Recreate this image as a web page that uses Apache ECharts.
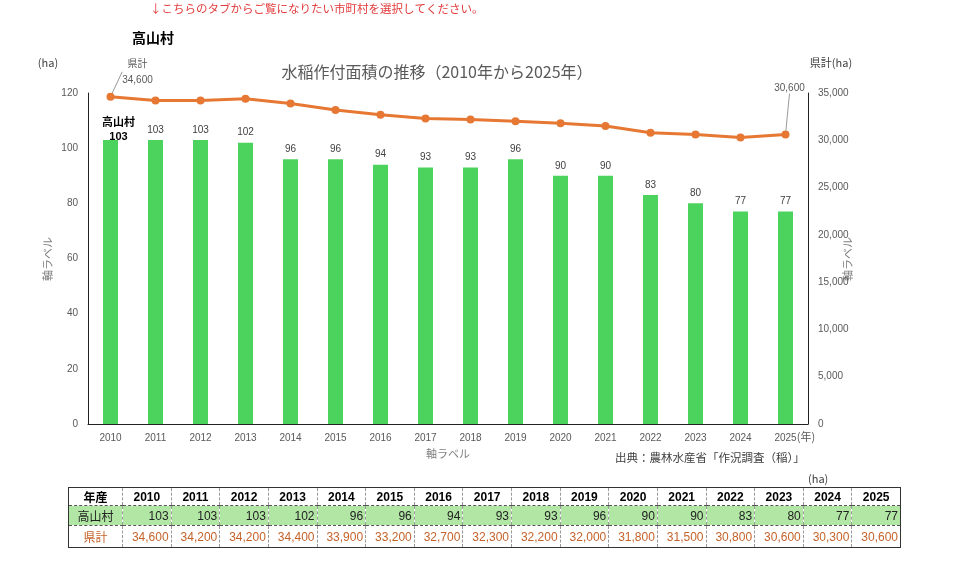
<!DOCTYPE html>
<html><head><meta charset="utf-8">
<script src="https://cdn.jsdelivr.net/npm/echarts@6/dist/echarts.min.js"></script>
<style>
html,body{margin:0;padding:0;background:#fff;}
#chart{position:absolute;left:0;top:0;width:960px;height:568px;}
#tbl{position:absolute;left:68px;top:487px;width:833px;border-collapse:collapse;table-layout:fixed;
 font-family:"Liberation Sans","Noto Sans CJK JP",sans-serif;font-size:12px;border:1px solid #333;}
#tbl td{padding:0 2px;border-left:1px dashed #999;white-space:nowrap;overflow:hidden;}
#tbl tr.h td{height:17px;font-weight:bold;text-align:center;color:#000;border-bottom:1px dashed #555;}
#tbl tr.v td{height:19px;background:#b2e6a4;text-align:right;color:#222;border-bottom:1px dashed #555;}
#tbl tr.p td{height:21px;text-align:right;color:#c4622a;}
#tbl td.first{text-align:center !important;font-family:"Noto Sans CJK JP",sans-serif;}
#unit{position:absolute;left:808px;top:470px;font-size:11px;color:#404040;font-family:"Noto Sans CJK JP",sans-serif;}
</style>
</head><body>
<div id="chart"></div>
<div id="unit">(ha)</div>
<table id="tbl"></table>
<script>
const years = ['2010','2011','2012','2013','2014','2015','2016','2017','2018','2019','2020','2021','2022','2023','2024','2025'];
const villageArea = [103,103,103,102,96,96,94,93,93,96,90,90,83,80,77,77];
const prefTotal = [34600,34200,34200,34400,33900,33200,32700,32300,32200,32000,31800,31500,30800,30600,30300,30600];
const villageName = '高山村';
const prefName = '県計';

const FONT = '"Liberation Sans","Noto Sans CJK JP",sans-serif';
const JFONT = '"Noto Sans CJK JP",sans-serif';

// build table
(function(){
  const t = document.getElementById('tbl');
  let cg = '<colgroup><col style="width:54px">' + years.map(()=>'<col>').join('') + '</colgroup>';
  let h = '<tr class="h"><td class="first">年産</td>' + years.map(y=>'<td>'+y+'</td>').join('') + '</tr>';
  let v = '<tr class="v"><td class="first">'+villageName+'</td>' + villageArea.map(x=>'<td>'+x.toLocaleString('en-US')+'</td>').join('') + '</tr>';
  let p = '<tr class="p"><td class="first">'+prefName+'</td>' + prefTotal.map(x=>'<td>'+x.toLocaleString('en-US')+'</td>').join('') + '</tr>';
  t.innerHTML = cg + h + v + p;
})();

const chart = echarts.init(document.getElementById('chart'), null, {renderer:'canvas'});

const barData = villageArea.map((v,i)=> i===0 ? {
  value: v,
  label: {show:true, position:'top',
    formatter: '{a|'+villageName+'}\n{b|{c}}',
    rich:{a:{fontSize:11,fontWeight:'bold',color:'#000',fontFamily:JFONT,lineHeight:16},
          b:{fontSize:11,fontWeight:'bold',color:'#000',fontFamily:FONT,lineHeight:15}}}
} : v);

const lineData = prefTotal.map((v,i)=>{
  if (i===0) return {value:v, label:{show:true, formatter:'{a|'+prefName+'}\n{b|'+v.toLocaleString('en-US')+'}',
     rich:{a:{fontSize:10,color:'#595959',fontFamily:JFONT,lineHeight:17},b:{fontSize:10,color:'#595959',fontFamily:FONT,lineHeight:17}}}};
  if (i===prefTotal.length-1) return {value:v, label:{show:true, formatter: v.toLocaleString('en-US')}};
  return v;
});

chart.setOption({
  animation:false,
  textStyle:{fontFamily:FONT},
  grid:{left:88, right:152, top:93, bottom:144},
  xAxis:{type:'category', data:years,
    axisLine:{lineStyle:{color:'#222',width:1}}, axisTick:{show:false},
    axisLabel:{color:'#595959', fontSize:10, margin:9}},
  yAxis:[
    {type:'value', min:0, max:120, interval:20, splitLine:{show:false},
     axisLine:{show:true, lineStyle:{color:'#222'}}, axisTick:{show:false},
     axisLabel:{color:'#595959', fontSize:10, margin:10}},
    {type:'value', min:0, max:35000, interval:5000, splitLine:{show:false},
     axisLine:{show:true, lineStyle:{color:'#222'}}, axisTick:{show:false},
     axisLabel:{color:'#595959', fontSize:10, margin:10, formatter:v=>v.toLocaleString('en-US')}}
  ],
  series:[
    {type:'bar', name:villageName, data:barData, barWidth:15, yAxisIndex:0,
     itemStyle:{color:'#4cd35e'},
     label:{show:true, position:'top', distance:5, color:'#404040', fontSize:10},
     labelLayout:function(p){ return p.dataIndex===0 ? {dx:8, dy:10} : {}; }
    },
    {type:'line', name:prefName, data:lineData, yAxisIndex:1,
     lineStyle:{color:'#e67834', width:3}, itemStyle:{color:'#e67834'},
     symbol:'circle', symbolSize:8, z:5,
     label:{show:false, color:'#595959', fontSize:10, position:'top'},
     labelLine:{show:true, lineStyle:{color:'#999', width:1}},
     labelLayout:function(p){
       if (p.dataIndex===0) return {dx:27, dy:1};
       if (p.dataIndex===prefTotal.length-1) return {dx:4, dy:-32};
       return {};
     }
    }
  ],
  graphic:[
    {type:'text', left:150, top:3, style:{text:'↓こちらのタブからご覧になりたい市町村を選択してください。', fill:'#e23b3b', font:'11.5px '+JFONT}},
    {type:'text', left:132, top:31, style:{text:villageName, fill:'#000', font:'bold 14px '+JFONT}},
    {type:'text', x:437, y:72, style:{text:'水稲作付面積の推移（2010年から2025年）', fill:'#595959', font:'16px '+JFONT, align:'center', verticalAlign:'middle'}},
    {type:'text', x:48, y:63, style:{text:'(ha)', fill:'#404040', font:'11px '+JFONT, align:'center', verticalAlign:'middle'}},
    {type:'text', x:831, y:63, style:{text:'県計(ha)', fill:'#404040', font:'11px '+JFONT, align:'center', verticalAlign:'middle'}},
    {type:'text', x:48, y:259, rotation:Math.PI/2, style:{text:'軸ラベル', fill:'#808080', font:'11px '+JFONT, align:'center', verticalAlign:'middle'}},
    {type:'text', x:848, y:259, rotation:Math.PI/2, style:{text:'軸ラベル', fill:'#808080', font:'11px '+JFONT, align:'center', verticalAlign:'middle'}},
    {type:'text', x:448, y:454, style:{text:'軸ラベル', fill:'#808080', font:'11px '+JFONT, align:'center', verticalAlign:'middle'}},
    {type:'text', x:806, y:437, style:{text:'(年)', fill:'#595959', font:'11px '+JFONT, align:'center', verticalAlign:'middle'}},
    {type:'text', x:615, y:458, style:{text:'出典：農林水産省「作況調査（稲）」', fill:'#404040', font:'11.5px '+JFONT, align:'left', verticalAlign:'middle'}}
  ]
});
</script>
</body></html>
